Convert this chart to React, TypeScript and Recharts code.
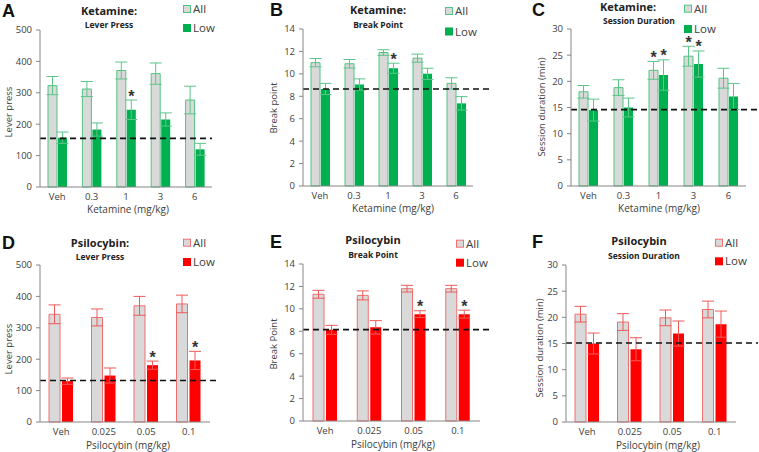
import React from 'react';
import { BarChart, Bar, XAxis, YAxis, ErrorBar, ReferenceLine, LabelList } from 'recharts';

// ---------- data ----------
const ketDoses = ['Veh', '0.3', '1', '3', '6'];
const psiDoses = ['Veh', '0.025', '0.05', '0.1'];

// A: Ketamine lever press
const ketLPAll = [323, 312, 371, 361, 277];
const ketLPAllErr = [29, 24, 27, 34, 44];
const ketLPLow = [157, 183, 246, 215, 120];
const ketLPLowErr = [18, 21, 31, 21, 19];
const ketLPAllStar = [0, 0, 0, 0, 0];
const ketLPLowStar = [0, 0, 1, 0, 0];
const ketLPRef = 155;

// B: Ketamine break point
const ketBPAll = [11.0, 10.9, 11.9, 11.4, 9.15];
const ketBPAllErr = [0.37, 0.38, 0.25, 0.36, 0.5];
const ketBPLow = [8.65, 9.05, 10.5, 10.0, 7.37];
const ketBPLowErr = [0.5, 0.5, 0.45, 0.5, 0.6];
const ketBPAllStar = [0, 0, 0, 0, 0];
const ketBPLowStar = [0, 0, 1, 0, 0];
const ketBPRef = 8.65;

// C: Ketamine session duration
const ketSDAll = [18.0, 18.8, 22.1, 24.8, 20.6];
const ketSDAllErr = [1.2, 1.5, 1.7, 1.9, 1.9];
const ketSDLow = [14.5, 15.0, 21.2, 23.3, 17.1];
const ketSDLowErr = [2.1, 1.8, 2.9, 2.5, 2.5];
const ketSDAllStar = [0, 0, 1, 1, 0];
const ketSDLowStar = [0, 0, 1, 1, 0];
const ketSDRef = 14.6;

// D: Psilocybin lever press
const psiLPAll = [343, 333, 370, 376];
const psiLPAllErr = [30, 27, 30, 28];
const psiLPLow = [130, 148, 181, 196];
const psiLPLowErr = [10, 24, 13, 29];
const psiLPAllStar = [0, 0, 0, 0];
const psiLPLowStar = [0, 0, 1, 1];
const psiLPRef = 132;

// E: Psilocybin break point
const psiBPAll = [11.3, 11.2, 11.8, 11.8];
const psiBPAllErr = [0.35, 0.4, 0.3, 0.3];
const psiBPLow = [8.13, 8.35, 9.53, 9.53];
const psiBPLowErr = [0.4, 0.6, 0.3, 0.35];
const psiBPAllStar = [0, 0, 0, 0];
const psiBPLowStar = [0, 0, 1, 1];
const psiBPRef = 8.15;

// F: Psilocybin session duration
const psiSDAll = [20.6, 19.1, 19.9, 21.5];
const psiSDAllErr = [1.5, 1.6, 1.5, 1.6];
const psiSDLow = [15.0, 13.9, 16.9, 18.7];
const psiSDLowErr = [2.0, 2.2, 2.4, 2.5];
const psiSDAllStar = [0, 0, 0, 0];
const psiSDLowStar = [0, 0, 0, 0];
const psiSDRef = 15.1;

const lpTicks = [0, 100, 200, 300, 400, 500];
const bpTicks = [0, 2, 4, 6, 8, 10, 12, 14];
const sdTicks = [0, 5, 10, 15, 20, 25, 30];

const seriesNames = ['All', 'Low'];

// ---------- style ----------
const W = 253;
const H = 226;
const GRAY = '#d9d9d9';
const GREEN = { fill: '#00b050', stroke: '#52c47f', err: '#5cc58a' };
const RED = { fill: '#ff0000', stroke: '#f07070', err: '#ee5a5a' };
const FONT = '"Open Sans", "Liberation Sans", sans-serif';
const TXT = '#404040';

type Cfg = {
  key: string;
  px: number; py: number;
  cats: string[];
  all: number[]; allErr: number[]; low: number[]; lowErr: number[];
  allStar: number[]; lowStar: number[]; ref: number;
  ticks: number[];
  color: typeof GREEN;
  plot: { l: number; r: number; t: number; b: number };
  barSize: number; barGap: number; refExt: number;
  letter: string; letterX: number; letterY: number;
  title1: string; title2: string; tx: number; t1y: number; t2x: number; t2y: number;
  legX: number; legY1: number; legY2: number;
  yTitle: string; ytx: number; yty: number;
  xTitle: string; xtx: number; xty: number;
};

const panels: Cfg[] = [
  {
    key: 'A', px: 0, py: 0, cats: ketDoses,
    all: ketLPAll, allErr: ketLPAllErr, low: ketLPLow, lowErr: ketLPLowErr,
    allStar: ketLPAllStar, lowStar: ketLPLowStar, ref: ketLPRef, ticks: lpTicks, color: GREEN,
    plot: { l: 40, r: 212, t: 30, b: 187 }, barSize: 9, barGap: 1, refExt: 0,
    letter: 'A', letterX: 2, letterY: 17,
    title1: 'Ketamine:', title2: 'Lever Press', tx: 109, t1y: 15, t2x: 109, t2y: 28,
    legX: 183, legY1: 13, legY2: 32,
    yTitle: 'Lever press', ytx: 8, yty: 112,
    xTitle: 'Ketamine (mg/kg)', xtx: 128, xty: 212.5,
  },
  {
    key: 'B', px: 253, py: 0, cats: ketDoses,
    all: ketBPAll, allErr: ketBPAllErr, low: ketBPLow, lowErr: ketBPLowErr,
    allStar: ketBPAllStar, lowStar: ketBPLowStar, ref: ketBPRef, ticks: bpTicks, color: GREEN,
    plot: { l: 50, r: 220, t: 29, b: 186 }, barSize: 9, barGap: 1, refExt: 17,
    letter: 'B', letterX: 17, letterY: 16,
    title1: 'Ketamine:', title2: 'Break Point', tx: 125, t1y: 13.5, t2x: 125, t2y: 27.5,
    legX: 192, legY1: 15, legY2: 35.5,
    yTitle: 'Break point', ytx: 20, yty: 108,
    xTitle: 'Ketamine (mg/kg)', xtx: 140, xty: 212,
  },
  {
    key: 'C', px: 506, py: 0, cats: ketDoses,
    all: ketSDAll, allErr: ketSDAllErr, low: ketSDLow, lowErr: ketSDLowErr,
    allStar: ketSDAllStar, lowStar: ketSDLowStar, ref: ketSDRef, ticks: sdTicks, color: GREEN,
    plot: { l: 65, r: 240, t: 29, b: 186 }, barSize: 9, barGap: 1, refExt: 13,
    letter: 'C', letterX: 26, letterY: 16,
    title1: 'Ketamine:', title2: 'Session Duration', tx: 122, t1y: 10.5, t2x: 133, t2y: 23.5,
    legX: 178, legY1: 12.7, legY2: 33,
    yTitle: 'Session duration (min)', ytx: 35, yty: 107,
    xTitle: 'Ketamine (mg/kg)', xtx: 153, xty: 211.5,
  },
  {
    key: 'D', px: 0, py: 226, cats: psiDoses,
    all: psiLPAll, allErr: psiLPAllErr, low: psiLPLow, lowErr: psiLPLowErr,
    allStar: psiLPAllStar, lowStar: psiLPLowStar, ref: psiLPRef, ticks: lpTicks, color: RED,
    plot: { l: 40, r: 210, t: 39, b: 196 }, barSize: 11, barGap: 2, refExt: 7,
    letter: 'D', letterX: 2, letterY: 22.5,
    title1: 'Psilocybin:', title2: 'Lever Press', tx: 100, t1y: 20.7, t2x: 100, t2y: 34,
    legX: 183, legY1: 20.7, legY2: 40,
    yTitle: 'Lever press', ytx: 8, yty: 123,
    xTitle: 'Psilocybin (mg/kg)', xtx: 128, xty: 222.5,
  },
  {
    key: 'E', px: 253, py: 226, cats: psiDoses,
    all: psiBPAll, allErr: psiBPAllErr, low: psiBPLow, lowErr: psiBPLowErr,
    allStar: psiBPAllStar, lowStar: psiBPLowStar, ref: psiBPRef, ticks: bpTicks, color: RED,
    plot: { l: 50, r: 227, t: 38, b: 195 }, barSize: 11, barGap: 2, refExt: 13,
    letter: 'E', letterX: 17, letterY: 22,
    title1: 'Psilocybin', title2: 'Break Point', tx: 120, t1y: 18.3, t2x: 120, t2y: 31.7,
    legX: 203, legY1: 21.7, legY2: 40.7,
    yTitle: 'Break Point', ytx: 20, yty: 118,
    xTitle: 'Psilocybin (mg/kg)', xtx: 140, xty: 221.5,
  },
  {
    key: 'F', px: 506, py: 226, cats: psiDoses,
    all: psiSDAll, allErr: psiSDAllErr, low: psiSDLow, lowErr: psiSDLowErr,
    allStar: psiSDAllStar, lowStar: psiSDLowStar, ref: psiSDRef, ticks: sdTicks, color: RED,
    plot: { l: 60, r: 230, t: 39, b: 196 }, barSize: 11, barGap: 2, refExt: 22,
    letter: 'F', letterX: 26, letterY: 22,
    title1: 'Psilocybin', title2: 'Session Duration', tx: 133, t1y: 19.3, t2x: 138, t2y: 33.3,
    legX: 209, legY1: 20.7, legY2: 39.3,
    yTitle: 'Session duration (min)', ytx: 33, yty: 122,
    xTitle: 'Psilocybin (mg/kg)', xtx: 152, xty: 222.5,
  },
];

const starContent = (stars: number[], errs: number[]) => (props: any) => {
  const { x, y, width, height, value, index } = props;
  if (!stars[index]) return null;
  const v = Number(value);
  const pxPerUnit = v ? Math.abs(height) / v : 0;
  const top = y - errs[index] * pxPerUnit;
  return (
    <text x={x + width / 2} y={top + 1.5} textAnchor="middle" fontSize={16} fontWeight="bold" fill="#333" fontFamily='"Liberation Sans", Arial, sans-serif'>
      *
    </text>
  );
};

function Panel({ c }: { c: Cfg }) {
  const data = c.cats.map((cat, i) => ({
    cat,
    all: c.all[i], allErr: c.allErr[i],
    low: c.low[i], lowErr: c.lowErr[i],
  }));
  const max = c.ticks[c.ticks.length - 1];
  const ext = c.refExt;
  return (
    <div style={{ position: 'absolute', left: c.px, top: c.py, width: W, height: H }}>
      <BarChart
        width={W}
        height={H}
        data={data}
        margin={{ top: c.plot.t, right: W - c.plot.r, bottom: 0, left: 0 }}
        barGap={c.barGap}
      >
        <XAxis
          dataKey="cat"
          height={H - c.plot.b}
          tickLine={false}
          tickSize={4}
          tickMargin={2}
          axisLine={{ stroke: '#868686' }}
          tick={{ fontSize: 9.5, fill: TXT, fontFamily: FONT }}
          interval={0}
        />
        <YAxis
          width={c.plot.l}
          domain={[0, max]}
          ticks={c.ticks}
          interval={0}
          tickSize={4}
          tickMargin={4}
          tickLine={{ stroke: '#868686' }}
          axisLine={{ stroke: '#868686' }}
          tick={{ fontSize: 9.5, fill: TXT, fontFamily: FONT }}
        />
        <Bar dataKey="all" name={seriesNames[0]} fill={GRAY} stroke={c.color.stroke} strokeWidth={1} barSize={c.barSize} isAnimationActive={false}>
          <ErrorBar dataKey="allErr" width={6} stroke={c.color.err} strokeWidth={1} direction="y" />
          <LabelList dataKey="all" content={starContent(c.allStar, c.allErr)} />
        </Bar>
        <Bar dataKey="low" name={seriesNames[1]} fill={c.color.fill} barSize={c.barSize} isAnimationActive={false}>
          <ErrorBar dataKey="lowErr" width={6} stroke={c.color.err} strokeWidth={1} direction="y" />
          <LabelList dataKey="low" content={starContent(c.lowStar, c.lowErr)} />
        </Bar>
        <ReferenceLine
          y={c.ref}
          ifOverflow="visible"
          stroke="#111"
          strokeWidth={1.6}
          strokeDasharray="6 4"
          shape={(p: any) => (
            <line x1={p.x1} y1={p.y1} x2={p.x2 + ext} y2={p.y2} stroke="#111" strokeWidth={1.6} strokeDasharray="6 4" />
          )}
        />
      </BarChart>
      <svg width={W} height={H} style={{ position: 'absolute', left: 0, top: 0, pointerEvents: 'none', overflow: 'visible' }}>
        <text x={c.letterX} y={c.letterY} fontSize={18} fontWeight="bold" fill="#111" fontFamily='"Liberation Sans", Arial, sans-serif'>
          {c.letter}
        </text>
        <text x={c.tx} y={c.t1y} fontSize={11} fontWeight="bold" fill="#222" textAnchor="middle" fontFamily={FONT}>
          {c.title1}
        </text>
        <text x={c.t2x} y={c.t2y} fontSize={8.5} fontWeight="bold" fill="#222" textAnchor="middle" fontFamily={FONT}>
          {c.title2}
        </text>
        <rect x={c.legX + 0.5} y={c.legY1 - 7.5} width={7} height={7} fill={GRAY} stroke={c.color.stroke} strokeWidth={1} />
        <text x={c.legX + 10} y={c.legY1} fontSize={11.5} fill={TXT} fontFamily={FONT}>
          {seriesNames[0]}
        </text>
        <rect x={c.legX} y={c.legY2 - 8} width={8} height={8} fill={c.color.fill} />
        <text x={c.legX + 10} y={c.legY2} fontSize={11.5} fill={TXT} fontFamily={FONT}>
          {seriesNames[1]}
        </text>
        <text
          x={c.ytx}
          y={c.yty}
          fontSize={9.5}
          fill={TXT}
          textAnchor="middle"
          dominantBaseline="central"
          transform={`rotate(-90 ${c.ytx} ${c.yty})`}
          fontFamily={FONT}
        >
          {c.yTitle}
        </text>
        <text x={c.xtx} y={c.xty} fontSize={10} fill={TXT} textAnchor="middle" fontFamily={FONT}>
          {c.xTitle}
        </text>
      </svg>
    </div>
  );
}

export default function App() {
  return (
    <div style={{ position: 'absolute', left: 0, top: 0, width: 759, height: 452, background: '#fff', overflow: 'hidden' }}>
      {panels.map((c) => (
        <Panel key={c.key} c={c} />
      ))}
    </div>
  );
}
